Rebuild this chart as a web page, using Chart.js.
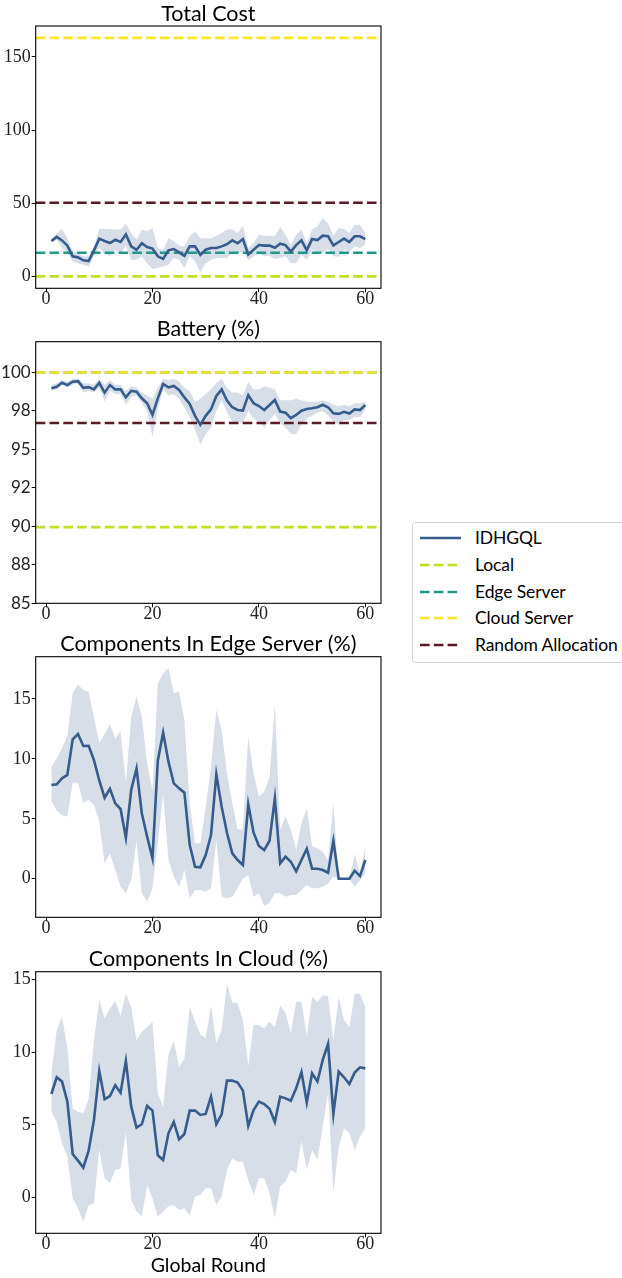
<!DOCTYPE html>
<html><head><meta charset="utf-8">
<script src="https://cdn.jsdelivr.net/npm/chart.js@4.4.1/dist/chart.umd.min.js"></script>
<style>
html,body{margin:0;padding:0;background:#fff;}
body{width:622px;height:1278px;position:relative;overflow:hidden;}
canvas{position:absolute;left:0;}
#legend{position:absolute;left:412px;top:522px;width:222px;height:141px;border:1px solid #d4d4d4;border-radius:4px;box-sizing:border-box;background:#fff;font-family:Lato,sans-serif;font-size:17.5px;letter-spacing:-0.1px;color:#000;}
#legend .row{position:absolute;left:0;height:24px;line-height:24px;white-space:nowrap;}
#legend svg{position:absolute;left:6px;top:7px;}
#legend span{position:absolute;left:62px;top:0;}
</style></head>
<body>
<canvas id="c1" style="top:0px" width="390" height="315"></canvas>
<canvas id="c2" style="top:315px" width="390" height="315"></canvas>
<canvas id="c3" style="top:630px" width="390" height="315"></canvas>
<canvas id="c4" style="top:945px" width="390" height="333"></canvas>
<div id="legend"></div>
<script>
// ---------------- data ----------------
const rounds = [1,2,3,4,5,6,7,8,9,10,11,12,13,14,15,16,17,18,19,20,21,22,23,24,25,26,27,28,29,30,31,32,33,34,35,36,37,38,39,40,41,42,43,44,45,46,47,48,49,50,51,52,53,54,55,56,57,58,59,60];
const xTicks = [0,20,40,60];

const costMean  = [24.2,27,24.6,21,13.7,13,11,10.5,17.8,25.8, 24.2,22.8,25,23.5,28.7,20.5,18.2,22.6,20,19, 13.7,12,17.8,18.7,16.4,14,20.5,20.5,14.6,18.2, 19.4,19.4,20.5,22,24.6,22.6,25.5,15,18.2,21.4, 21,21,19.6,22.3,21.4,16.9,21.4,24.6,17.8,25.5, 24.8,27.8,27.4,21.2,23.5,25.8,23.5,27.4,27.4,25.5];
const costUpper = [25,29.6,32.4,26,17,16,13.7,13.7,20.5,32.4, 32.4,32.4,32,32,36,29.6,25,32,30.8,33, 19.4,18.2,26,24,21,20.5,27.4,30.8,26,26, 26,27.8,29.6,32,32,29.6,34.6,19.4,22.8,28.5, 27.8,27.8,27.4,33.7,28.5,21.7,28.5,32,22.8,32, 34.2,39.9,36,27.8,33,32.4,29.6,35.3,35.3,29.6];
const costLower = [23.2,25,19.4,16,10.3,9,8,6.8,13.7,19.4, 15.5,13.7,17.8,15.5,21,11.4,11.4,13.7,9,5, 5.7,6.8,8,12.5,11.4,5.7,13.7,10.3,2.7,9, 11.4,12.5,12.5,12.5,16,15.5,17,11,13.7,15.5, 13.7,14,11.9,12.5,13.7,9,9,14.8,11.4,18.2, 16,16,18.7,13.7,13.2,18.2,17,20.5,19.4,21.7];
const costRefs  = {local:0, edge:16.2, cloud:163, random:50.3};
const costTicks = [0,50,100,150];

const battMean  = [98.97,99.07,99.33,99.18,99.4,99.44,99.0,99.05,98.9,99.33, 98.69,99.18,98.9,98.9,98.38,98.81,98.75,98.32,98.0,97.24, 98.32,99.25,99.03,99.12,98.86,98.38,97.95,97.18,96.6,97.18, 97.6,98.47,98.9,98.17,97.74,97.56,97.52,98.53,98.0,97.82, 97.56,97.89,98.21,97.46,97.39,97.03,97.24,97.52,97.63,97.67, 97.74,97.9,97.74,97.35,97.31,97.44,97.33,97.6,97.56,97.89];
const battUpper = [99.2,99.3,99.5,99.4,99.6,99.6,99.3,99.3,99.2,99.6, 99.2,99.5,99.2,99.2,98.8,99.1,99.0,98.7,98.5,98.3, 99.0,99.6,99.5,99.6,99.4,99.0,98.8,98.1,98.3,98.6, 98.9,99.3,99.6,99.0,98.7,98.7,98.5,99.4,98.9,98.9, 99.1,99.0,98.9,98.2,98.2,98.2,98.3,98.2,98.1,98.1, 98.1,98.2,98.1,97.9,97.8,97.9,97.8,98.0,98.0,98.1];
const battLower = [98.8,98.9,99.2,99.0,99.2,99.3,98.7,98.8,98.7,99.0, 98.1,98.8,98.6,98.6,97.9,98.4,98.5,98.0,97.5,95.8, 97.6,98.9,98.5,98.6,98.3,97.7,97.1,96.3,95.3,96.0, 96.4,97.5,98.2,97.4,96.8,96.8,96.7,97.5,97.0,96.8, 96.4,96.9,97.3,96.7,96.4,96.0,96.0,96.6,97.0,97.2, 97.4,97.5,97.2,96.8,96.6,96.9,96.9,97.1,97.1,97.6];
const battRefs  = {local:89.95, edge:100, cloud:100, random:96.72};
const battTicks = [85,87.5,90,92.5,95,97.5,100];
const battTickLabels = ['85','88','90','92','95','98','100'];

const edgeMean  = [7.82,7.88,8.38,8.66,11.63,12.08,11.08,11.1,9.9,8.2, 6.76,7.5,6.29,5.82,3.42,7.4,9.2,5.45,3.5,1.7, 9.85,12.19,9.77,7.96,7.54,7.18,2.81,1.0,0.95,1.98, 3.65,8.71,6.0,3.84,2.12,1.56,1.14,6.21,3.84,2.73, 2.39,3.17,6.71,1.28,1.84,1.42,0.61,1.56,2.5,0.83, 0.83,0.72,0.5,3.17,0,0,0,0.67,0.22,1.56];
const edgeUpper = [9.35,10.05,10.9,11.9,15.5,16.2,15.75,15.6,13.5,11.3, 12.1,12.9,11.7,12.3,8.0,13.5,15.2,13.5,9.6,7.4, 16.3,17.1,17.56,15.5,15.6,13.2,6.3,2.95,2.95,6.0, 9.35,14.1,12.4,8.8,6.3,4.1,4.1,11.9,8.8,6.85, 7.26,8.5,14.6,4.06,5.2,4.1,2.4,4.6,5.9,2.7, 2.55,2.25,1.56,6.3,0,0,0,2.06,0.45,2.7];
const edgeLower = [6.5,5.7,5.3,5.2,8.0,8.0,6.35,6.6,6.15,4.76, 1.28,2.1,0.72,-0.67,-1.22,-0.1,3.2,-1.22,-1.92,-0.8, 2.95,7.1,1.56,0.17,-0.67,0.72,-1.64,-0.95,-0.95,-1.08, -0.8,3.2,-1.5,-1.64,-1.5,-0.8,0,0.3,-1.5,-1.22, -2.28,-2.0,-1.22,-1.22,-1.5,-1.36,-1.36,-0.95,-0.53,-0.8, -0.8,-0.67,-0.4,0.17,0,0,0,-0.67,-0.11,0.45];
const pctTicks = [0,5,10,15];

const cloudMean  = [7.12,8.27,7.97,6.6,3.0,2.54,2.06,3.23,5.34,8.7, 6.76,6.98,7.72,7.21,9.39,6.25,4.81,5.04,6.3,5.98, 2.91,2.59,4.42,5.2,4.0,4.37,5.98,5.98,5.68,5.75, 6.94,5.04,5.72,8.04,8.04,7.9,7.35,4.92,6.02,6.6, 6.43,6.11,5.2,6.94,6.82,6.66,7.51,8.63,6.53,8.54, 7.97,9.46,10.56,5.75,8.66,8.27,7.81,8.59,8.95,8.88];
const cloudUpper = [8.54,11.5,12.4,10.26,6.14,5.9,5.8,6.8,10.8,13.6, 12.3,13.0,13.5,12.5,14.0,13.1,10.8,11.4,11.7,12.1, 7.17,6.25,9.8,10.8,8.95,9.57,13.1,12.1,11.2,10.95, 13.2,10.6,11.5,14.7,13.4,13.35,12.2,9.0,11.86,11.86, 11.63,12.1,11.7,13.2,12.7,11.3,13.46,13.46,11.1,13.8, 13.46,13.9,13.85,10.8,13.8,12.2,11.7,14.0,14.0,13.1];
const cloudLower = [5.9,5.2,3.73,2.8,-0.05,-0.73,-1.65,-0.5,-0.4,3.3, 1.33,1.0,1.9,2.0,4.5,-0.16,-0.96,-1.3,0.87,-0.05, -1.3,-0.96,-0.6,-0.5,-0.85,-0.73,-1.2,0.07,0.18,0.64, 0.64,-0.5,0.07,1.9,2.7,2.47,2.47,1.2,0.18,1.33, 1.33,0.3,-1.42,0.76,1.1,1.9,1.67,3.85,1.9,3.27, 2.6,4.88,7.17,0.3,3.5,4.76,4.42,3.27,4.2,4.76];

const seriesName = 'IDHGQL';
const refNames = {local:'Local', edge:'Edge Server', cloud:'Cloud Server', random:'Random Allocation'};

// ---------------- styles ----------------
const LINE = '#355c8d';
const BAND = 'rgba(53,92,141,0.2)';
const REF_COLORS = {local:'#c2df23', edge:'#1f9a8a', cloud:'#fde725', random:'#5a1a24'};
const DASH = [9.6, 4.2];
const X_MIN = -1.95, X_MAX = 62.95;
const SERIF = "'Liberation Serif', serif";
const SANS = "Lato, sans-serif";

const pts = arr => rounds.map((r, i) => ({x: r, y: arr[i]}));

function buildDatasets(mean, lower, upper, refs) {
  const ds = [
    {label: seriesName, data: pts(mean), borderColor: LINE, borderWidth: 2.6, pointRadius: 0, fill: false, order: 0, tension: 0, showInLegend: true},
    {label: 'lower', data: pts(lower), borderWidth: 0, borderColor: 'rgba(0,0,0,0)', pointRadius: 0, fill: false, order: 3},
    {label: 'upper', data: pts(upper), borderWidth: 0, borderColor: 'rgba(0,0,0,0)', backgroundColor: BAND, pointRadius: 0, fill: '-1', order: 3}
  ];
  if (refs) {
    ['local','edge','cloud','random'].forEach((k, j) => {
      ds.push({label: refNames[k], data: [{x: X_MIN, y: refs[k]}, {x: X_MAX, y: refs[k]}],
        borderColor: REF_COLORS[k], borderWidth: 2.6, borderDash: DASH, pointRadius: 0, fill: false,
        order: 2 - j * 0.1, showInLegend: true});
    });
  }
  return ds;
}

const panelPlugin = {
  id: 'panel',
  afterDraw(chart, args, opts) {
    const {ctx, chartArea: a} = chart;
    ctx.save();
    ctx.strokeStyle = '#000';
    ctx.lineWidth = 1.1;
    ctx.strokeRect(a.left, a.top, a.right - a.left, a.bottom - a.top);
    ctx.fillStyle = '#000';
    ctx.font = '21.5px ' + SANS;
    ctx.textAlign = 'center';
    ctx.textBaseline = 'alphabetic';
    ctx.fillText(opts.text, (a.left + a.right) / 2, a.top - 5.5);
    ctx.restore();
  }
};

function makeChart(id, cfg) {
  const xTitle = cfg.xTitle || null;
  return new Chart(document.getElementById(id), {
    type: 'line',
    data: {datasets: buildDatasets(cfg.mean, cfg.lower, cfg.upper, cfg.refs)},
    plugins: [panelPlugin],
    options: {
      responsive: false, animation: false, devicePixelRatio: 1,
      layout: {padding: {left: 0, right: 9, top: cfg.padTop, bottom: 0}},
      plugins: {legend: {display: false}, tooltip: {enabled: false}, panel: {text: cfg.title}},
      scales: {
        x: {
          type: 'linear', min: X_MIN, max: X_MAX,
          afterBuildTicks: s => { s.ticks = xTicks.map(v => ({value: v})); },
          afterFit: s => { s.height = cfg.xHeight; },
          grid: {display: true, drawOnChartArea: false, drawTicks: true, tickLength: 4, color: '#000', lineWidth: 1},
          border: {display: false},
          ticks: {font: {family: SERIF, size: 18, lineHeight: 1}, color: '#222', padding: -2, maxRotation: 0, autoSkip: false},
          title: xTitle ? {display: true, text: xTitle, font: {family: SANS, size: 19.5, lineHeight: 1.2}, color: '#000', padding: {top: 0, bottom: 1}} : {display: false}
        },
        y: {
          type: 'linear', min: cfg.yMin, max: cfg.yMax,
          afterBuildTicks: s => { s.ticks = cfg.yTicks.map(v => ({value: v})); },
          afterFit: s => { s.width = 35.7; },
          grid: {display: true, drawOnChartArea: false, drawTicks: true, tickLength: 4, color: '#000', lineWidth: 1},
          border: {display: false},
          ticks: {
            font: {family: cfg.yFont || SERIF, size: cfg.yFontSize || 18, lineHeight: 1}, color: '#222', padding: 1,
            callback: (v, i) => cfg.yLabels ? cfg.yLabels[i] : String(v)
          }
        }
      }
    }
  });
}

makeChart('c1', {title: 'Total Cost', mean: costMean, lower: costLower, upper: costUpper, refs: costRefs,
  yMin: -8.15, yMax: 171.15, yTicks: costTicks, padTop: 26, xHeight: 26.7});
const battChart = makeChart('c2', {title: 'Battery (%)', mean: battMean, lower: battLower, upper: battUpper, refs: battRefs,
  yMin: 85, yMax: 102, yTicks: battTicks, yLabels: battTickLabels, yFont: SANS, yFontSize: 17, padTop: 26.7, xHeight: 26.7});
makeChart('c3', {title: 'Components In Edge Server (%)', mean: edgeMean, lower: edgeLower, upper: edgeUpper, refs: null,
  yMin: -3.22, yMax: 18.53, yTicks: pctTicks, padTop: 26.7, xHeight: 27.7});
makeChart('c4', {title: 'Components In Cloud (%)', mean: cloudMean, lower: cloudLower, upper: cloudUpper, refs: null,
  yMin: -2.45, yMax: 15.52, yTicks: pctTicks, padTop: 26.7, xHeight: 44.7, xTitle: 'Global Round'});

// ---------------- legend (built from the battery chart's datasets) ----------------
const legend = document.getElementById('legend');
const NS = 'http://www.w3.org/2000/svg';
battChart.data.datasets.filter(d => d.showInLegend).forEach((d, i) => {
  const row = document.createElement('div');
  row.className = 'row';
  row.style.top = (2.7 + 26.9 * i) + 'px';
  row.style.width = '100%';
  const svg = document.createElementNS(NS, 'svg');
  svg.setAttribute('width', '42'); svg.setAttribute('height', '10');
  const ln = document.createElementNS(NS, 'line');
  ln.setAttribute('x1', '1'); ln.setAttribute('x2', '42'); ln.setAttribute('y1', '5'); ln.setAttribute('y2', '5');
  ln.setAttribute('stroke', d.borderColor); ln.setAttribute('stroke-width', '2.6');
  if (d.borderDash) ln.setAttribute('stroke-dasharray', d.borderDash.join(' '));
  svg.appendChild(ln);
  const sp = document.createElement('span');
  sp.textContent = d.label;
  row.appendChild(svg); row.appendChild(sp);
  legend.appendChild(row);
});
</script>
</body></html>
